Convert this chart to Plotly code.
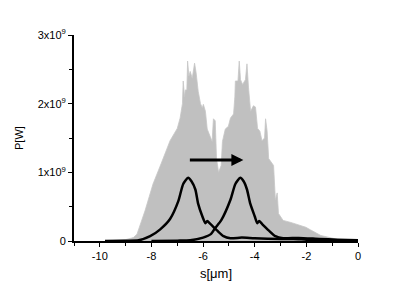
import plotly.graph_objects as go

# Envelope of the many gray overlapping traces (units of 1e9 W)
env_s = [-9.8, -9.0, -8.7, -8.56, -8.25, -7.94, -7.6, -7.28, -7.0, -6.89, -6.8, -6.77, -6.72,
         -6.69, -6.63, -6.6, -6.55, -6.5, -6.42, -6.33, -6.27, -6.23, -6.19, -6.1, -6.03,
         -5.99, -5.91, -5.84, -5.72, -5.65, -5.6, -5.53, -5.48, -5.4, -5.3, -5.25, -5.14,
         -5.02, -4.94, -4.82, -4.77, -4.75, -4.65, -4.6, -4.55, -4.47, -4.36, -4.3, -4.24,
         -4.16, -4.05, -3.97, -3.89, -3.8, -3.72, -3.62, -3.58, -3.52, -3.46, -3.38, -3.27,
         -3.2, -3.13, -3.08, -2.9, -2.6, -2.41, -2.02, -1.83, -1.44, -0.86, -0.54]
env_p = [0.0, 0.02, 0.05, 0.1, 0.44, 0.83, 1.15, 1.46, 1.64, 1.79, 2.0, 2.33, 2.1,
         2.2, 2.2, 2.62, 2.4, 2.47, 2.37, 2.59, 2.45, 2.3, 2.18, 2.0, 1.94,
         1.99, 1.89, 1.63, 1.5, 1.45, 1.78, 1.75, 1.2, 1.0, 1.1, 1.45, 1.63,
         1.67, 1.79, 1.85, 2.1, 2.33, 2.33, 2.62, 2.35, 2.28, 2.35, 2.58, 2.23,
         1.89, 1.97, 1.95, 1.64, 1.6, 1.46, 1.5, 1.78, 1.6, 1.2, 1.15, 1.1,
         0.6, 0.7, 0.4, 0.3, 0.27, 0.25, 0.2, 0.16, 0.08, 0.03, 0.0]

# Pulse at start (left) and at end (right), units of 1e9 W
p1_s = [-9.8, -9.0, -8.5, -8.05, -7.66, -7.28, -6.96, -6.77, -6.58, -6.45, -6.3, -6.19, -6.03,
        -5.91, -5.84, -5.72, -5.45, -5.21, -4.94, -4.5, -4.0, -3.0, -2.5, -2.0, -1.0, 0.0]
p1_p = [0.0, 0.005, 0.01, 0.07, 0.17, 0.32, 0.58, 0.83, 0.92, 0.87, 0.75, 0.54, 0.36,
        0.26, 0.29, 0.25, 0.15, 0.07, 0.04, 0.05, 0.04, 0.03, 0.03, 0.02, 0.005, 0.0]

p2_s = [-8.0, -7.0, -6.5, -6.0, -5.7, -5.53, -5.3, -4.94, -4.75, -4.56, -4.43, -4.3, -4.17,
        -4.0, -3.9, -3.83, -3.72, -3.45, -3.2, -2.9, -2.3, -1.5, -0.8, 0.0]
p2_p = [0.0, 0.005, 0.01, 0.05, 0.1, 0.19, 0.3, 0.6, 0.83, 0.92, 0.87, 0.75, 0.54,
        0.36, 0.26, 0.29, 0.25, 0.15, 0.07, 0.04, 0.045, 0.03, 0.02, 0.01]

# Arrow (start -> end), data units
arrow_s = [-6.57, -4.44]
arrow_p = [1.18, 1.18]

y_ticks = [0, 1, 2, 3]
y_labels = ["0", "1x10<sup>9</sup>", "2x10<sup>9</sup>", "3x10<sup>9</sup>"]
x_ticks = [-10, -8, -6, -4, -2, 0]

E = 1e9
fig = go.Figure()
fig.add_trace(go.Scatter(x=env_s, y=[v * E for v in env_p], mode="lines", fill="tozeroy",
                         fillcolor="#c0c0c0", line=dict(color="#c6c6c6", width=0.8),
                         hoverinfo="skip", showlegend=False))
for xs, ys in [(p1_s, p1_p), (p2_s, p2_p)]:
    fig.add_trace(go.Scatter(x=xs, y=[v * E for v in ys], mode="lines",
                             line=dict(color="black", width=2.5, shape="spline", smoothing=0.6),
                             showlegend=False))

fig.add_annotation(x=arrow_s[1], y=arrow_p[1] * E, ax=arrow_s[0], ay=arrow_p[0] * E,
                   xref="x", yref="y", axref="x", ayref="y", text="", showarrow=True,
                   arrowhead=2, arrowsize=0.8, arrowwidth=3, arrowcolor="black")

font = dict(family="Liberation Sans, Arial, sans-serif", size=11, color="black")
fig.add_annotation(text="P[W]", textangle=-90, xref="paper", yref="paper", x=0, y=0.5,
                   xanchor="center", yanchor="middle", xshift=-55, showarrow=False, font=font)
fig.update_layout(
    width=415, height=289, margin=dict(l=66, r=65, t=27, b=56),
    paper_bgcolor="white", plot_bgcolor="white", font=font,
    xaxis=dict(range=[-11, 0], tickmode="array", tickvals=x_ticks, ticktext=[str(v) for v in x_ticks],
               ticks="outside", ticklen=4, tickwidth=1.2, tickcolor="black", automargin=False,
               showline=True, linecolor="black", linewidth=1.8, showgrid=False, zeroline=False,
               minor=dict(ticks="outside", tickvals=[-11, -9, -7, -5, -3, -1], ticklen=3, tickcolor="black"),
               title=dict(text="s[μm]", standoff=8), tickfont=font),
    yaxis=dict(range=[0, 3 * E], tickmode="array", tickvals=[v * E for v in y_ticks], ticktext=y_labels,
               ticks="outside", ticklen=4, tickwidth=1.2, tickcolor="black", automargin=False,
               showline=True, linecolor="black", linewidth=1.8, showgrid=False, zeroline=False,
               minor=dict(ticks="outside", tickvals=[0.5 * E, 1.5 * E, 2.5 * E], ticklen=3, tickcolor="black"),
               tickfont=font),
)
fig.write_html("out.html")
